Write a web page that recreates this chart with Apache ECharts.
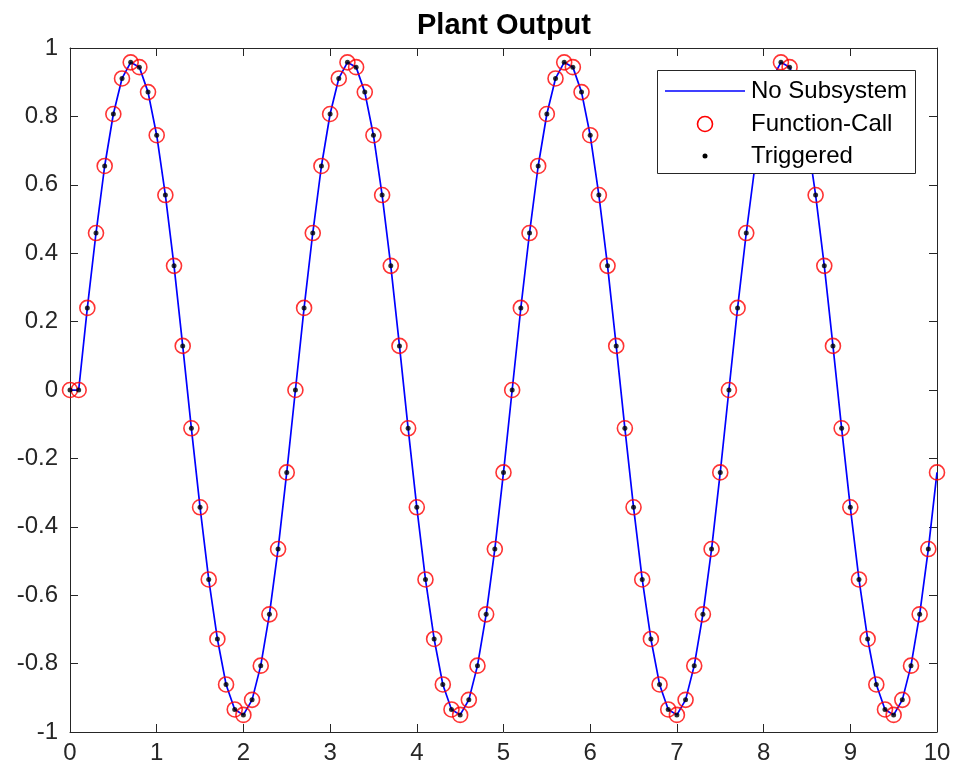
<!DOCTYPE html>
<html>
<head>
<meta charset="utf-8">
<script src="https://cdn.jsdelivr.net/npm/echarts@6/dist/echarts.min.js"></script>
<style>
  html, body { margin: 0; padding: 0; background: #fff; }
  #chart { width: 956px; height: 776px; }
</style>
</head>
<body>
<div id="chart"></div>
<script>
// ---- data ----
const chartTitle = 'Plant Output';
const seriesNames = ['No Subsystem', 'Function-Call', 'Triggered'];
const xTickValues = [0, 1, 2, 3, 4, 5, 6, 7, 8, 9, 10];
const yTickValues = [-1, -0.8, -0.6, -0.4, -0.2, 0, 0.2, 0.4, 0.6, 0.8, 1];

const timeValues = [
  0.0, 0.1, 0.2, 0.3, 0.4, 0.5, 0.6, 0.7, 0.8, 0.9,
  1.0, 1.1, 1.2, 1.3, 1.4, 1.5, 1.6, 1.7, 1.8, 1.9,
  2.0, 2.1, 2.2, 2.3, 2.4, 2.5, 2.6, 2.7, 2.8, 2.9,
  3.0, 3.1, 3.2, 3.3, 3.4, 3.5, 3.6, 3.7, 3.8, 3.9,
  4.0, 4.1, 4.2, 4.3, 4.4, 4.5, 4.6, 4.7, 4.8, 4.9,
  5.0, 5.1, 5.2, 5.3, 5.4, 5.5, 5.6, 5.7, 5.8, 5.9,
  6.0, 6.1, 6.2, 6.3, 6.4, 6.5, 6.6, 6.7, 6.8, 6.9,
  7.0, 7.1, 7.2, 7.3, 7.4, 7.5, 7.6, 7.7, 7.8, 7.9,
  8.0, 8.1, 8.2, 8.3, 8.4, 8.5, 8.6, 8.7, 8.8, 8.9,
  9.0, 9.1, 9.2, 9.3, 9.4, 9.5, 9.6, 9.7, 9.8, 9.9,
  10.0
];

const plantOutput = [
  0,
  0, 0.24, 0.459, 0.655, 0.807, 0.911, 0.958, 0.944, 0.871, 0.745, 0.570, 0.363, 0.129,
  -0.112, -0.343, -0.554, -0.728, -0.861, -0.934, -0.950, -0.906, -0.806, -0.656, -0.465, -0.241,
  0, 0.24, 0.459, 0.655, 0.807, 0.911, 0.958, 0.944, 0.871, 0.745, 0.570, 0.363, 0.129,
  -0.112, -0.343, -0.554, -0.728, -0.861, -0.934, -0.950, -0.906, -0.806, -0.656, -0.465, -0.241,
  0, 0.24, 0.459, 0.655, 0.807, 0.911, 0.958, 0.944, 0.871, 0.745, 0.570, 0.363, 0.129,
  -0.112, -0.343, -0.554, -0.728, -0.861, -0.934, -0.950, -0.906, -0.806, -0.656, -0.465, -0.241,
  0, 0.24, 0.459, 0.655, 0.807, 0.911, 0.958, 0.944, 0.871, 0.745, 0.570, 0.363, 0.129,
  -0.112, -0.343, -0.554, -0.728, -0.861, -0.934, -0.950, -0.906, -0.806, -0.656, -0.465, -0.241
];

// the triggered output has no sample at t = 10
const triggeredCount = 100;

// ---- build ----
const noSubData = timeValues.map((t, i) => [t, plantOutput[i]]);
const fcnCallData = timeValues.map((t, i) => [t, plantOutput[i]]);
const triggeredData = timeValues.slice(0, triggeredCount).map((t, i) => [t, plantOutput[i]]);

const FONT = '"Liberation Sans", Arial, Helvetica, sans-serif';
const AX = '#262626';
const labelSize = 24;

const chart = echarts.init(document.getElementById('chart'), null, { renderer: 'canvas' });

function xAxisDef(pos, showLabels) {
  return {
    type: 'value', position: pos, min: 0, max: 10, interval: 1,
    axisLine: { show: true, onZero: false, lineStyle: { color: AX, width: 1 } },
    axisTick: { show: true, inside: true, length: 8, lineStyle: { color: AX } },
    axisLabel: { show: showLabels, color: AX, fontSize: labelSize, fontFamily: FONT, margin: 9 },
    splitLine: { show: false }
  };
}
function yAxisDef(pos, showLabels) {
  return {
    type: 'value', position: pos, min: -1, max: 1, interval: 0.2,
    axisLine: { show: true, onZero: false, lineStyle: { color: AX, width: 1 } },
    axisTick: { show: true, inside: true, length: 8, lineStyle: { color: AX } },
    axisLabel: {
      show: showLabels, color: AX, fontSize: labelSize, fontFamily: FONT, margin: 12,
      formatter: v => String(Math.round(v * 10) / 10)
    },
    splitLine: { show: false }
  };
}

// legend (drawn as a MATLAB-style box)
const legendBox = { x: 657.5, y: 70.5, w: 258, h: 103 };
const legendRowsY = [91, 124, 156];
const legendSampleX = [665, 745];
const legendTextX = 751;
const legendFont = labelSize + 'px ' + FONT;

const legendElements = [
  { type: 'rect', z: 100, shape: { x: legendBox.x, y: legendBox.y, width: legendBox.w, height: legendBox.h },
    style: { fill: '#ffffff', stroke: AX, lineWidth: 1 } },
  { type: 'line', z: 101, shape: { x1: legendSampleX[0], y1: legendRowsY[0], x2: legendSampleX[1], y2: legendRowsY[0] },
    style: { stroke: '#0000ff', lineWidth: 1.6 } },
  { type: 'circle', z: 101, shape: { cx: (legendSampleX[0] + legendSampleX[1]) / 2, cy: legendRowsY[1], r: 7.5 },
    style: { fill: 'none', stroke: '#ff0000', lineWidth: 1.6 } },
  { type: 'circle', z: 101, shape: { cx: (legendSampleX[0] + legendSampleX[1]) / 2, cy: legendRowsY[2], r: 2.5 },
    style: { fill: '#000000' } }
].concat(seriesNames.map((name, i) => ({
  type: 'text', z: 101, x: legendTextX, y: legendRowsY[i],
  style: { text: name, font: legendFont, fill: '#000000', align: 'left', verticalAlign: 'middle' }
})));

chart.setOption({
  backgroundColor: '#ffffff',
  animation: false,
  title: {
    text: chartTitle, left: 499, top: 6, textAlign: 'center',
    textStyle: { fontSize: 29, fontWeight: 'bold', fontFamily: FONT, color: '#000' }
  },
  grid: { left: 70, right: 19, top: 48, bottom: 44, containLabel: false },
  xAxis: [xAxisDef('bottom', true), xAxisDef('top', false)],
  yAxis: [yAxisDef('left', true), yAxisDef('right', false)],
  graphic: { elements: legendElements },
  series: [
    {
      name: seriesNames[0], type: 'line', data: noSubData,
      showSymbol: false, symbol: 'none',
      lineStyle: { color: '#0000ff', width: 1.7 },
      itemStyle: { color: '#0000ff' },
      z: 2
    },
    {
      name: seriesNames[1], type: 'scatter', data: fcnCallData,
      symbol: 'circle', symbolSize: 15,
      itemStyle: { color: 'rgba(0,0,0,0)', borderColor: '#ff0000', borderWidth: 1.6 },
      z: 3
    },
    {
      name: seriesNames[2], type: 'scatter', data: triggeredData,
      symbol: 'circle', symbolSize: 5,
      itemStyle: { color: '#000000' },
      z: 4
    }
  ]
});
</script>
</body>
</html>
